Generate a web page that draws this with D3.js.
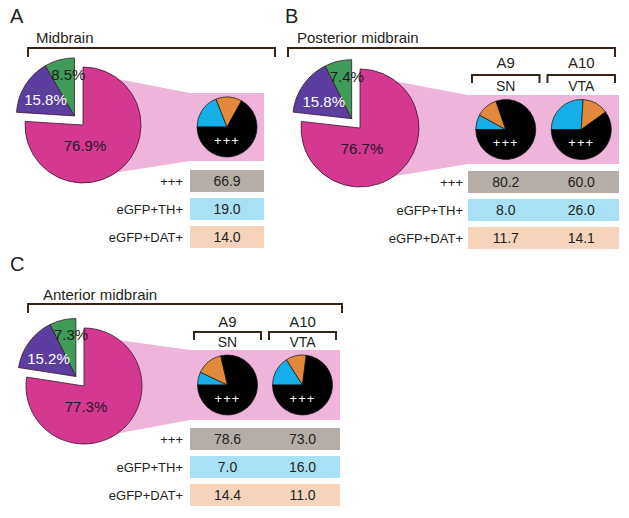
<!DOCTYPE html>
<html><head><meta charset="utf-8">
<script src="https://cdn.jsdelivr.net/npm/d3@7"></script>
<style>
html,body{margin:0;padding:0;background:#fff;}
svg{display:block;font-family:Arial,"Liberation Sans",Helvetica,sans-serif;}
</style></head>
<body><svg id="chart" width="629" height="518"></svg>
<script>
// ---------- data ----------
const panelLetters = ["A", "B", "C"];
const panelTitles = ["Midbrain", "Posterior midbrain", "Anterior midbrain"];
const bigPieCategories = ["Magenta", "Purple", "Green"];
const bigMagenta = [76.9, 76.7, 77.3];
const bigPurple = [15.8, 15.8, 15.2];
const bigGreen = [8.5, 7.4, 7.3];
const subRegions = [[""], ["A9", "A10"], ["A9", "A10"]];
const subNames = [[""], ["SN", "VTA"], ["SN", "VTA"]];
const rowLabels = ["+++", "eGFP+TH+", "eGFP+DAT+"];
const tripleValues = [[66.9], [80.2, 60.0], [78.6, 73.0]];
const thValues = [[19.0], [8.0, 26.0], [7.0, 16.0]];
const datValues = [[14.0], [11.7, 14.1], [14.4, 11.0]];

// ---------- layout (styles/positions) ----------
const layouts = [
  {letterX:10, letterY:23, titleX:36, titleY:43, brX1:28, brX2:275, brY:48, cx:83, cy:125, r:58,
   rectX1:190, rectX2:264, rectY1:93, rectY2:161, rowY0:170, labelX:183},
  {letterX:285, letterY:23, titleX:297, titleY:43, brX1:288, brX2:615, brY:48, cx:360, cy:128, r:59,
   rectX1:468, rectX2:619, rectY1:95, rectY2:164, subTextY:68, subY:75, subNameY:91, rowY0:171, labelX:463},
  {letterX:10, letterY:271, titleX:43, titleY:300, brX1:28, brX2:342, brY:304, cx:84, cy:386, r:58,
   rectX1:190, rectX2:340, rectY1:350, rectY2:420, subTextY:327, subY:332, subNameY:347, rowY0:428, labelX:183}
];
const bigColors = {Magenta:"#d5388f", Purple:"#5b3e9d", Green:"#3f9c58"};
const smallColors = ["#16aee8", "#e2893c", "#000000"];
const rowColors = ["#b5ada7", "#a8e0f5", "#f6d4bb"];
const pinkFill = "#eeb4d9";
const bracketColor = "#3b2417";
const textColor = "#231f20";

const svg = d3.select("#chart");

layouts.forEach((L, p) => {
  const g = svg.append("g");

  g.append("text").attr("x", L.letterX).attr("y", L.letterY)
    .attr("font-size", 20).attr("fill", textColor).text(panelLetters[p]);
  g.append("text").attr("x", L.titleX).attr("y", L.titleY)
    .attr("font-size", 15).attr("fill", textColor).text(panelTitles[p]);
  g.append("path")
    .attr("d", `M${L.brX1},${L.brY + 9}V${L.brY}H${L.brX2}V${L.brY + 9}`)
    .attr("fill", "none").attr("stroke", bracketColor).attr("stroke-width", 2);

  const cols = subNames[p].map((d, i) => i);
  const xBand = d3.scaleBand().domain(cols).range([L.rectX1, L.rectX2]);

  // pink projection
  const angUp = 38 * Math.PI / 180, angDn = 145 * Math.PI / 180;
  const pUp = [L.cx + L.r * Math.sin(angUp), L.cy - L.r * Math.cos(angUp)];
  const pDn = [L.cx + L.r * Math.sin(angDn), L.cy - L.r * Math.cos(angDn)];
  g.append("path")
    .attr("d", d3.line()([[L.cx, L.cy], pUp, [L.rectX1, L.rectY1], [L.rectX2, L.rectY1],
      [L.rectX2, L.rectY2], [L.rectX1, L.rectY2], pDn]) + "Z")
    .attr("fill", pinkFill);

  // big pie
  const bigData = [bigMagenta[p], bigPurple[p], bigGreen[p]];
  const pie = d3.pie().sort(null).value(d => d)(bigData);
  const arc = d3.arc().innerRadius(0).outerRadius(L.r);
  const mid = (pie[1].startAngle + pie[2].endAngle) / 2;
  const off = 12.5;
  const ex = Math.sin(mid) * off, ey = -Math.cos(mid) * off;

  const pg = g.append("g").attr("transform", `translate(${L.cx},${L.cy})`);
  pie.forEach((s, i) => {
    const t = i === 0 ? "" : `translate(${ex},${ey})`;
    pg.append("path").attr("d", arc(s)).attr("transform", t)
      .attr("fill", bigColors[bigPieCategories[i]])
      .attr("stroke", "#3a1530").attr("stroke-width", 0.8);
  });
  const fmt = d3.format(".1f");
  pg.append("text").attr("x", 2).attr("y", 21).attr("dy", "0.35em")
    .attr("text-anchor", "middle").attr("font-size", 15).attr("fill", "#2a1526")
    .text(fmt(bigData[0]) + "%");
  const lp = d3.arc().innerRadius(34).outerRadius(34).centroid(pie[1]);
  pg.append("text").attr("x", lp[0] + ex).attr("y", lp[1] + ey + 2).attr("dy", "0.35em")
    .attr("text-anchor", "middle").attr("font-size", 15).attr("fill", "#ffffff")
    .text(fmt(bigData[1]) + "%");
  const lg = d3.arc().innerRadius(43).outerRadius(43).centroid(pie[2]);
  pg.append("text").attr("x", lg[0] + ex + 5).attr("y", lg[1] + ey).attr("dy", "0.35em")
    .attr("text-anchor", "middle").attr("font-size", 15).attr("fill", "#1a1a1a")
    .text(fmt(bigData[2]) + "%");

  // sub brackets
  if (L.subY !== undefined) {
    cols.forEach(i => {
      const x0 = xBand(i) + 4, x1 = xBand(i) + xBand.bandwidth() - 4;
      const xc = xBand(i) + xBand.bandwidth() / 2;
      g.append("text").attr("x", xc).attr("y", L.subTextY).attr("text-anchor", "middle")
        .attr("font-size", 15).attr("fill", textColor).text(subRegions[p][i]);
      g.append("path").attr("d", `M${x0},${L.subY + 8}V${L.subY}H${x1}V${L.subY + 8}`)
        .attr("fill", "none").attr("stroke", bracketColor).attr("stroke-width", 2);
      g.append("text").attr("x", xc).attr("y", L.subNameY).attr("text-anchor", "middle")
        .attr("font-size", 14).attr("fill", textColor).text(subNames[p][i]);
    });
  }

  // small pies
  const spy = (L.rectY1 + L.rectY2) / 2;
  const sArc = d3.arc().innerRadius(0).outerRadius(30);
  cols.forEach(i => {
    const xc = xBand(i) + xBand.bandwidth() / 2;
    const vals = [thValues[p][i], datValues[p][i], tripleValues[p][i]];
    const sp = d3.pie().sort(null).value(d => d).startAngle(-Math.PI / 2).endAngle(1.5 * Math.PI)(vals);
    const sg = g.append("g").attr("transform", `translate(${xc},${spy})`);
    sp.forEach((s, k) => {
      sg.append("path").attr("d", sArc(s)).attr("fill", smallColors[k])
        .attr("stroke", "#111").attr("stroke-width", 0.7);
    });
    sg.append("text").attr("x", 0).attr("y", 13).attr("dy", "0.35em").attr("text-anchor", "middle")
      .attr("font-size", 13).attr("letter-spacing", 1).attr("fill", "#fff").text(rowLabels[0]);
  });

  // table rows
  const rowSets = [tripleValues[p], thValues[p], datValues[p]];
  rowLabels.forEach((lab, r) => {
    const y = L.rowY0 + r * 28;
    g.append("rect").attr("x", L.rectX1).attr("y", y).attr("width", L.rectX2 - L.rectX1)
      .attr("height", 22).attr("fill", rowColors[r]);
    g.append("text").attr("x", L.labelX).attr("y", y + 11).attr("dy", "0.35em")
      .attr("text-anchor", "end").attr("font-size", 13).attr("fill", textColor).text(lab);
    cols.forEach(i => {
      const xc = xBand(i) + xBand.bandwidth() / 2;
      g.append("text").attr("x", xc).attr("y", y + 11).attr("dy", "0.35em")
        .attr("text-anchor", "middle").attr("font-size", 14).attr("fill", textColor)
        .text(fmt(rowSets[r][i]));
    });
  });
});
</script></body></html>
